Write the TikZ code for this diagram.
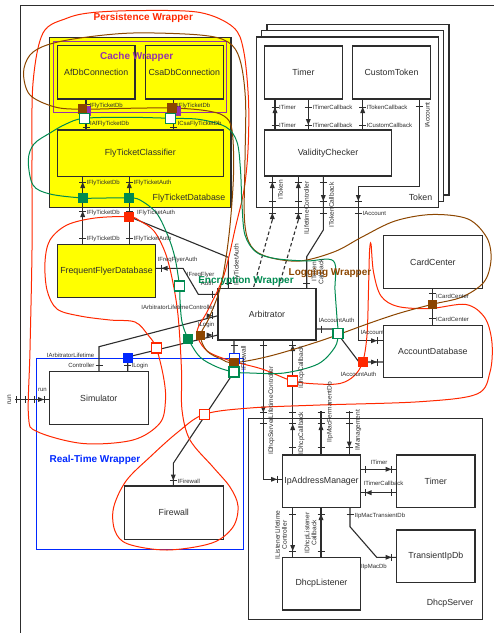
\documentclass[tikz,border=0pt]{standalone}
\usepackage{fontspec}
\setmainfont{Liberation Sans}
\usetikzlibrary{arrows.meta, calc}

\definecolor{ink}{RGB}{45,45,45}
\definecolor{persred}{RGB}{255,40,0}
\definecolor{encgreen}{RGB}{0,138,80}
\definecolor{logbrown}{RGB}{140,70,0}
\definecolor{rtblue}{RGB}{0,40,255}
\definecolor{cachepurple}{RGB}{150,50,170}
\definecolor{dbyellow}{RGB}{255,255,0}

\tikzset{
    % port ticks
    htk/.pic={\draw[ink, line width=0.9pt] (-3.5,0) -- (3.5,0);},
    vtk/.pic={\draw[ink, line width=0.9pt] (0,-3.5) -- (0,3.5);},
    % arrow heads, tip at the pic origin
    tipup/.pic={\fill[ink] (0,0) -- (-2.5,6) -- (2.5,6) -- cycle;},
    tipdn/.pic={\fill[ink] (0,0) -- (-2.5,-6) -- (2.5,-6) -- cycle;},
    tiprt/.pic={\fill[ink] (0,0) -- (-6,-2.5) -- (-6,2.5) -- cycle;},
    tiplt/.pic={\fill[ink] (0,0) -- (6,-2.5) -- (6,2.5) -- cycle;}
}

\begin{document}
\begin{tikzpicture}[
    x=1pt, y=-1pt,
    % component box style
    comp/.style={
        rectangle,
        draw=ink,
        line width=1.2pt,
        fill=white,
        text=ink,
        inner sep=0pt,
        font=\fontsize{8.8}{10}\selectfont
    },
    % database component style
    dbcomp/.style={comp, fill=dbyellow},
    % wire style
    wire/.style={ink, line width=1.1pt},
    % port label style
    plbl/.style={font=\fontsize{6}{6.5}\selectfont, text=ink, inner sep=0.5pt},
    % rotated port label style
    rlbl/.style={font=\fontsize{6.6}{7}\selectfont, text=ink, inner sep=0.5pt, align=center},
    % wrapper label style
    wlbl/.style={font=\fontsize{10}{12}\selectfont\bfseries, inner sep=0pt},
    % wrapper outline style
    wrap/.style={line width=1pt},
    % port square style
    psq/.style={rectangle, minimum size=10pt, inner sep=0pt, line width=1.2pt}
]
\useasboundingbox (0,0) rectangle (494,633);

% === System frame ===
\draw[ink, line width=1.2pt] (20.7,633) -- (20.7,5.7) -- (494,5.7);

% === Token (stacked instances) ===
\node[comp, minimum width=182pt, minimum height=170.4pt] (tokenc) at (357.9,109.7) {};
\node[comp, minimum width=182pt, minimum height=170.4pt] (tokenb) at (352.6,115.9) {};
\node[comp, minimum width=182pt, minimum height=170.4pt] (token) at (347.3,122.1) {};
\node[comp, draw=none, fill=none] (tokenname) at (420.5,197.8) {Token};
\node[comp, minimum width=78.2pt, minimum height=53pt] (ttimer) at (303.4,72.5) {Timer};
\node[comp, minimum width=78.4pt, minimum height=53pt] (ctoken) at (391.5,72.5) {CustomToken};
\node[comp, minimum width=127.4pt, minimum height=46pt] (vcheck) at (328,153) {ValidityChecker};

% === FlyTicketDatabase ===
\node[dbcomp, minimum width=181.7pt, minimum height=170pt] (ftd) at (140.2,122.6) {};
\node[comp, draw=none, fill=none] (ftdname) at (189,197.8) {FlyTicketDatabase};
\node[dbcomp, minimum width=77.7pt, minimum height=53.3pt] (afdb) at (96.2,72.3) {AfDbConnection};
\node[dbcomp, minimum width=78pt, minimum height=53.3pt] (csadb) at (184.3,72.3) {CsaDbConnection};
\node[dbcomp, minimum width=166pt, minimum height=46.3pt] (ftc) at (140.3,153.2) {FlyTicketClassifier};
\node[draw=cachepurple, wrap, minimum width=173.4pt, minimum height=70.7pt, inner sep=0pt] (cachewrap) at (140,77) {};
\node[dbcomp, minimum width=98.4pt, minimum height=52.6pt] (ffd) at (106.5,271) {FrequentFlyerDatabase};

% === Other components ===
\node[comp, minimum width=99.2pt, minimum height=52.6pt] (card) at (432.9,262) {CardCenter};
\node[comp, minimum width=99.2pt, minimum height=51.6pt] (accdb) at (432.9,351.5) {AccountDatabase};
\node[comp, minimum width=98pt, minimum height=51.7pt] (arb) at (267,314.2) {Arbitrator};
\node[comp, minimum width=99pt, minimum height=52.6pt] (sim) at (98.8,398) {Simulator};
\node[comp, minimum width=99pt, minimum height=53.3pt] (fw) at (173.8,512.7) {Firewall};
\node[draw=rtblue, wrap, minimum width=206.6pt, minimum height=191pt, inner sep=0pt] (rtwrap) at (140,453.8) {};

% === DhcpServer ===
\node[comp, minimum width=234pt, minimum height=201pt] (dhcp) at (365.3,518.8) {};
\node[comp, draw=none, fill=none] (dhcpname) at (450,603.5) {DhcpServer};
\node[comp, minimum width=77.6pt, minimum height=52.7pt] (iam) at (321.5,481.3) {IpAddressManager};
\node[comp, minimum width=78.3pt, minimum height=52.7pt] (dtimer) at (435.8,481.3) {Timer};
\node[comp, minimum width=78.3pt, minimum height=52.3pt] (tipdb) at (435.8,556.2) {TransientIpDb};
\node[comp, minimum width=77.6pt, minimum height=52.7pt] (dlist) at (321.5,583.7) {DhcpListener};

% === Connectors: FlyTicketDatabase ===
\coordinate (afp) at (86,99);
\coordinate (csp) at (173.3,99);
\coordinate (fdbp) at (82.7,176.3);
\coordinate (faup) at (129.3,176.3);
\coordinate (faux) at (129.3,216.7);
\draw[wire] (afp) -- (afp |- ftc.north);
\draw[wire] (csp) -- (csp |- ftc.north);
\draw[wire] (fdbp) -- (fdbp |- ffd.north);
\draw[wire] (faup) -- (faup |- ffd.north);
\pic at (86,104) {htk}; \pic at (86,127) {htk};
\pic at (173.3,104) {htk}; \pic at (173.3,127) {htk};
\foreach \px in {82.7,129.3}{
    \pic at (\px,182) {htk}; \pic at (\px,182) {tipup};
    \pic at (\px,211) {htk}; \pic at (\px,211) {tipup};
    \pic at (\px,238) {htk};
}

% === Connectors: Token ===
\coordinate (tm1) at (275,99);
\coordinate (tm2) at (308.3,99);
\coordinate (ctc) at (362.7,99);
\coordinate (ctp) at (419.3,99);
\draw[wire] (tm1) -- (tm1 |- vcheck.north);
\draw[wire] (tm2) -- (tm2 |- vcheck.north);
\draw[wire] (ctc) -- (ctc |- vcheck.north);
\foreach \px in {275,308.3,362.7}{
    \pic at (\px,107) {htk}; \pic at (\px,125) {htk};
}
\pic at (275,107) {tipup}; \pic at (308.3,125) {tipdn}; \pic at (362.7,107) {tipup};
\pic at (419.3,106) {htk};

% ValidityChecker -> Arbitrator
\coordinate (vc1) at (272.3,176);
\coordinate (vc2) at (298.3,176);
\coordinate (vc3) at (323.3,176);
\coordinate (arbtk) at (253.3,288.3);
\coordinate (arblc) at (278.3,288.3);
\coordinate (arbtc) at (306.7,288.3);
\draw[wire] (vc1) -- ++(0,44) coordinate (vc1e);
\draw[wire] (vc2) -- ++(0,44) coordinate (vc2e);
\draw[wire, dash pattern=on 3.5pt off 2.5pt] (vc1e) -- (arbtk);
\draw[wire, dash pattern=on 3.5pt off 2.5pt] (vc2e) -- (arblc);
\draw[wire] (vc3) -- ++(0,54) -- ++(-16.6,26.7) -- (arbtc);
\foreach \px in {272.3,298.3,323.3}{
    \pic at (\px,182) {htk}; \pic at (\px,201) {htk}; \pic at (\px,213) {htk};
}
\pic at (272.3,182) {tipup}; \pic at (298.3,182) {tipup};
\pic at (272.3,213) {tipup}; \pic at (298.3,213) {tipup};
\pic at (323.3,201) {tipdn};
\pic at (306.7,283) {htk};

% IAccount: CustomToken -> AccountDatabase
\coordinate (accac) at (383.3,340.7);
\draw[wire] (ctp) -- ++(0,87.7) -- ++(-61,0) |- (accac);
\pic at (358.3,201) {htk}; \pic at (358.3,213) {htk}; \pic at (358.3,201) {tipdn};
\pic at (377,340.7) {vtk}; \pic at (377,340.7) {tiprt};

% ICardCenter
\coordinate (ccp) at (432.3,288.3);
\draw[wire] (ccp) -- (ccp |- accdb.north);
\pic at (432.3,293) {htk}; \pic at (432.3,318.5) {htk};

% IFlyTicketAuth -> Arbitrator
\coordinate (arbfa) at (228.3,288.3);
\draw[wire] (faux) -- ($(arbfa)+(0,-31)$) -- (arbfa);
\pic at (228.3,283) {htk};

% IFreqFlyerAuth
\coordinate (ffap) at (155.7,268.3);
\coordinate (arbff) at (218,294.3);
\draw[wire] (ffap) -- ++(27.3,0) -- ++(15.3,26) -- (arbff);
\pic at (161,268.3) {vtk}; \pic at (161.5,268.3) {tiplt};
\pic at (212.5,294.3) {vtk};

% IArbitratorLifetimeController
\coordinate (simalc) at (99,371.7);
\coordinate (arbalc) at (218,315.7);
\draw[wire] (simalc) -- ++(0,-25) -- (arbalc);
\pic at (99,365.5) {htk};
\pic at (212.5,315.7) {vtk}; \pic at (212.5,315.7) {tiprt};

% ILogin
\coordinate (simlog) at (127.7,371.7);
\coordinate (arblog) at (218,335);
\draw[wire] (simlog) -- ++(0,-14.7) -- (arblog);
\pic at (127.7,365.5) {htk};
\pic at (212.5,335) {vtk}; \pic at (212.5,335) {tiprt};

% IAccountAuth
\coordinate (arbaa) at (316,329);
\coordinate (accaa) at (383.3,362);
\draw[wire] (arbaa) -- ++(18,0) -- ++(25,33) -- (accaa);
\pic at (321,329) {vtk};
\pic at (377,362) {vtk}; \pic at (377,362) {tiprt};

% IFirewall
\coordinate (arbfw) at (234,340);
\coordinate (fwp) at (173.3,486);
\draw[wire] (arbfw) -- ++(0,32) -- ++(-60.7,91.3) -- (fwp);
\pic at (234,345) {htk};
\pic at (173.3,480.5) {htk}; \pic at (173.3,480.5) {tipdn};

% run
\coordinate (runp) at (15,399.5);
\draw[wire] (runp) -- (runp -| sim.west);
\foreach \px in {16,25,34.5,44.5}{ \pic at (\px,399.5) {vtk}; }
\pic at (44,399.5) {tiprt};

% === Connectors: DhcpServer ===
\coordinate (arbds) at (263.3,340);
\coordinate (iamds) at (282.7,479.3);
\coordinate (arbdc) at (292.7,340);
\coordinate (permp) at (321,411);
\coordinate (mgmtp) at (349.3,411);
\draw[wire] (arbds) |- (iamds);
\draw[wire] (arbdc) -- (arbdc |- iam.north);
\draw[wire] (permp) -- (permp |- iam.north);
\draw[wire] (mgmtp) -- (mgmtp |- iam.north);
\pic at (263.3,345) {htk}; \pic at (292.7,345) {htk}; \pic at (292.7,345) {tipup};
\foreach \px in {263.3,292.7,321,349.3}{
    \pic at (\px,412.5) {htk}; \pic at (\px,423.3) {htk};
}
\foreach \px in {292.7,321,349.3}{ \pic at (\px,447.5) {htk}; }
\pic at (263.3,412.5) {tipdn};
\pic at (292.7,424) {tipup}; \pic at (321,424) {tipup};
\pic at (349.3,447.5) {tipdn};
\pic at (277,479.3) {vtk}; \pic at (277,479.3) {tiprt};

\coordinate (iamt1) at (360.3,469.3);
\coordinate (iamt2) at (360.3,492.7);
\draw[wire] (iamt1) -- (iamt1 -| dtimer.west);
\draw[wire] (iamt2) -- (iamt2 -| dtimer.west);
\foreach \py in {469.3,492.7}{
    \pic at (365.5,\py) {vtk}; \pic at (391.5,\py) {vtk};
}
\pic at (391.5,469.3) {tiprt}; \pic at (365.5,492.7) {tiplt};

\coordinate (iamd1) at (292.7,507.7);
\coordinate (iamd2) at (321,507.7);
\coordinate (iamtp) at (350,507.7);
\coordinate (tipp) at (396.7,557.3);
\draw[wire] (iamd1) -- (iamd1 |- dlist.north);
\draw[wire] (iamd2) -- (iamd2 |- dlist.north);
\draw[wire] (iamtp) -- ++(0,19) -- ++(26.7,30.6) -- (tipp);
\foreach \px in {292.7,321}{
    \pic at (\px,514) {htk}; \pic at (\px,551) {htk};
}
\pic at (292.7,551) {tipdn}; \pic at (321,514) {tipup};
\pic at (350,514) {htk};
\pic at (391.5,557.3) {vtk}; \pic at (391.5,557.3) {tiprt};

% === Wrapper outlines ===
% Persistence Wrapper
\draw[persred, wrap] plot[smooth cycle, tension=0.55] coordinates {
    (143,10.5) (200,12.5) (233,27) (243.5,50) (248.5,100) (248,150) (244,190)
    (236,225) (224,275) (208,310) (197,332) (206,350) (228,360) (262,369)
    (292.7,381) (318,384) (340,383.5) (354,376) (362.7,362) (367,335)
    (368.5,290) (369.5,252) (371,244) (373.5,272) (381,296) (398,306.5)
    (430,308.5) (466,304.5) (485,318) (492,343) (490,372) (477,394)
    (420,401.7) (320,405) (250,408) (204.3,414.3) (178,432) (150,457)
    (126,481) (113.5,508) (115,531) (128,544) (167,550) (212,543) (233,527)
    (238,506) (230,487) (213,467) (190,440) (182,410) (181.5,370) (178,315)
    (172,278) (165,252) (154,231) (140,221) (129.3,216.7) (95,218) (67,225)
    (50,240) (45,262) (47,290) (57,309) (80,316) (110,320) (135,322)
    (148,335) (156.3,348) (163.5,377) (165.5,400) (160,423) (133,440)
    (83,443.5) (37,431.5) (28.5,416) (30,350) (32,250) (32,160) (33,83)
    (43,33) (66.7,18.3) (93,12.5)};
% Logging Wrapper
\draw[logbrown, wrap] plot[smooth cycle, tension=0.55] coordinates {
    (82.5,109.2) (127,108.3) (172,108) (205,110.5) (224,116) (232,130)
    (233.5,175) (229,235) (221,285) (209,318) (200.5,335.5) (207,351)
    (221,359) (234,362.7) (270,356) (320,341) (370,323) (400,313)
    (432.3,304.3) (462,297) (484,282) (491,260) (487,238) (468,219)
    (432,214.5) (395,221) (362,237) (335,251.5) (300,261) (268,257)
    (251,246) (244.5,220) (245,160) (245.5,100) (240,60) (228,42) (200,35)
    (133,33) (80,38) (47,45) (30,55) (23.5,73) (30,95) (55,107)};
% Encryption Wrapper
\draw[encgreen, wrap] plot[smooth cycle, tension=0.55] coordinates {
    (84.2,118.3) (128,117.3) (170.8,118.3) (200,119.5) (226,127) (237,142)
    (240.5,170) (242,205) (245,235) (256,252) (275,258.5) (306,261)
    (333.5,261) (335,290) (337,318) (338,333.3) (335,347) (318,364)
    (284,373) (250,373) (234,372) (217,367) (200,357) (188.3,339)
    (182,322) (180,300) (179.5,286) (175,258) (168,236) (156.5,213)
    (140,200) (129.3,198) (105,198) (82.7,198) (50,194) (33,185)
    (28.3,160) (34,144) (50,133) (66,124)};

% === Port squares on wrapper boundaries ===
\node[psq, fill=cachepurple] (pq1) at (86,111) {};
\node[psq, fill=cachepurple] (pq2) at (175.5,110.5) {};
\node[psq, fill=logbrown, minimum size=9.5pt] (bq1) at (82.5,109.2) {};
\node[psq, fill=logbrown, minimum size=9.5pt] (bq2) at (172,108) {};
\node[psq, draw=encgreen, fill=white] (eq1) at (84.2,118.3) {};
\node[psq, draw=encgreen, fill=white] (eq2) at (170.8,118.3) {};
\node[psq, fill=encgreen] (gq1) at (82.7,198) {};
\node[psq, fill=encgreen] (gq2) at (129.3,198) {};
\node[psq, fill=persred] (rq1) at (129.3,216.7) {};
\node[psq, draw=encgreen, fill=white] (eq3) at (179.5,286) {};
\node[psq, fill=rtblue] (uq1) at (128.3,358.3) {};
\node[psq, draw=persred, fill=white] (rq3) at (156.3,348) {};
\node[psq, fill=encgreen] (gq3) at (188.3,339) {};
\node[psq, fill=logbrown, minimum size=9.5pt] (bq3) at (200.5,335.5) {};
\node[psq, draw=rtblue, fill=white] (uq2) at (234.7,358.3) {};
\node[psq, fill=logbrown, minimum size=9.5pt] (bq4) at (234,363) {};
\node[psq, draw=encgreen, fill=white] (eq5) at (234,372) {};
\node[psq, draw=persred, fill=white] (rq4) at (204.3,414.3) {};
\node[psq, draw=persred, fill=white] (rq5) at (292.7,381) {};
\node[psq, draw=encgreen, fill=white] (eq4) at (338,333.3) {};
\node[psq, fill=persred] (rq2) at (362.7,362) {};
\node[psq, fill=logbrown, minimum size=9.5pt] (bq5) at (432.3,304.3) {};

% === Port labels ===
\node[plbl, anchor=west] (l1) at (89,105.5) {IFlyTicketDb};
\node[plbl, anchor=west] (l2) at (89.5,124) {IAfFlyTicketDb};
\node[plbl, anchor=west] (l3) at (176.5,105.5) {IFlyTicketDb};
\node[plbl, anchor=west] (l4) at (177,124) {ICsaFlyTicketDb};
\node[plbl, anchor=west] (l5) at (86,183) {IFlyTicketDb};
\node[plbl, anchor=west] (l6) at (86,212.5) {IFlyTicketDb};
\node[plbl, anchor=west] (l7) at (86,238.5) {IFlyTicketDb};
\node[plbl, anchor=west] (l8) at (133,183) {IFlyTicketAuth};
\node[plbl, anchor=west] (l9) at (136.5,213) {IFlyTicketAuth};
\node[plbl, anchor=west] (l10) at (133,238.5) {IFlyTicketAuth};
\node[plbl, anchor=west] (l11) at (157,260) {IFreqFlyerAuth};
\node[plbl, anchor=east] (l12) at (215,274.5) {IFreqFlyer};
\node[plbl, anchor=east] (l13) at (214,283) {Auth};
\node[plbl, anchor=east] (l14) at (215.5,307.5) {IArbitratorLifetimeController};
\node[plbl, anchor=east] (l15) at (215,325) {ILogin};
\node[plbl, anchor=east] (l16) at (95,355.5) {IArbitratorLifetime};
\node[plbl, anchor=east] (l17) at (95,365) {Controller};
\node[plbl, anchor=west] (l18) at (131,366) {ILogin};
\node[plbl] (l19) at (42.5,390) {run};
\node[plbl, anchor=west] (l20) at (177,481.5) {IFirewall};
\node[plbl, anchor=west] (l21) at (318,320) {IAccountAuth};
\node[plbl, anchor=east] (l22) at (377,374) {IAccountAuth};
\node[plbl, anchor=west] (l23) at (360,332.3) {IAccount};
\node[plbl, anchor=west] (l24) at (362,213.5) {IAccount};
\node[plbl, anchor=west] (l25) at (435.5,296) {ICardCenter};
\node[plbl, anchor=west] (l26) at (435.5,319.5) {ICardCenter};
\node[plbl, anchor=west] (l27) at (278.5,107.5) {ITimer};
\node[plbl, anchor=west] (l28) at (278.5,125.3) {ITimer};
\node[plbl, anchor=west] (l29) at (312,107.5) {ITimerCallback};
\node[plbl, anchor=west] (l30) at (312,125.3) {ITimerCallback};
\node[plbl, anchor=west] (l31) at (366,107.5) {ITokenCallback};
\node[plbl, anchor=west] (l32) at (366,125.3) {ICustomCallback};
\node[plbl, anchor=west] (l33) at (370,462.5) {ITimer};
\node[plbl, anchor=west] (l34) at (363,483.5) {ITimerCallback};
\node[plbl, anchor=west] (l35) at (354,515.5) {IIpMacTransientDb};
\node[plbl, anchor=east] (l36) at (387.5,566.5) {IIpMacDb};

% rotated port labels
\node[rlbl, rotate=90] (r1) at (237,265) {IFlyTicketAuth};
\node[rlbl, rotate=90] (r2) at (280.5,190) {IToken};
\node[rlbl, rotate=90] (r3) at (306.5,208) {ILifetimeController};
\node[rlbl, rotate=90] (r4) at (331.5,205) {ITokenCallback};
\node[rlbl, rotate=90] (r5) at (317.5,272) {IToken\\Callback};
\node[rlbl, rotate=90] (r6) at (427.5,115) {IAccount};
\node[rlbl, rotate=90] (r7) at (243.5,358) {IFirewall};
\node[rlbl, rotate=90] (r8) at (271.5,410.5) {IDhcpServerLifetimeController};
\node[rlbl, rotate=90] (r9) at (301.5,367.5) {IDhcpCallback};
\node[rlbl, rotate=90] (r10) at (301.5,433) {IDhcpCallback};
\node[rlbl, rotate=90] (r11) at (330,412) {IIpMacPermanentDb};
\node[rlbl, rotate=90] (r12) at (358.3,430) {IManagement};
\node[rlbl, rotate=90] (r13) at (281,535) {IListenerLifetime\\Controller};
\node[rlbl, rotate=90] (r14) at (310.5,533) {IDhcpListener\\Callback};
\node[rlbl, rotate=90] (r15) at (9.5,399.5) {run};

% === Wrapper labels ===
\node[wlbl, text=persred] (perslbl) at (143.3,18.3) {Persistence Wrapper};
\node[wlbl, text=cachepurple] (cachelbl) at (136.7,57.3) {Cache Wrapper};
\node[wlbl, text=encgreen] (enclbl) at (246,280.5) {Encryption Wrapper};
\node[wlbl, text=logbrown] (loglbl) at (330,272.6) {Logging Wrapper};
\node[wlbl, text=rtblue] (rtlbl) at (95,460.3) {Real-Time Wrapper};

\end{tikzpicture}
\end{document}
